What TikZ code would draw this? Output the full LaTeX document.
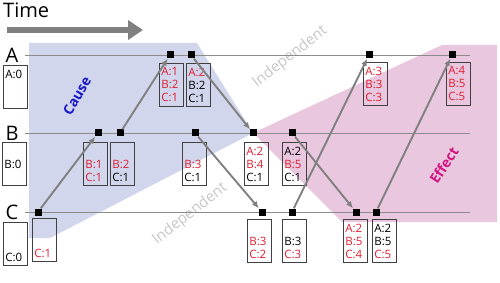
\documentclass[tikz,border=0pt]{standalone}
\usepackage{fontspec}
\setmainfont{Open Sans}
\usetikzlibrary{arrows.meta}
\definecolor{causebg}{RGB}{210,214,236}
\definecolor{effectbg}{RGB}{233,199,223}
\definecolor{clockred}{RGB}{222,30,48}
\definecolor{causeblue}{RGB}{25,25,200}
\definecolor{effectpink}{RGB}{210,20,130}
\newcommand{\rd}[1]{\textcolor{clockred}{#1}}
\newcommand{\nix}{\phantom{A:0}}
\tikzset{
  event/.style={fill=black,minimum size=7pt,inner sep=0pt},
  clock/.style={draw=black!75,line width=0.6pt,anchor=north west,align=left,
    text width=20pt,inner xsep=2pt,inner ysep=4.4pt,font=\fontsize{11.5}{13}\selectfont},
  msg/.style={-{Latex[length=7pt,width=6pt]},draw=black!50,line width=1.9pt},
  timeline/.style={draw=black!45,line width=0.7pt},
  region/.style={font=\bfseries\fontsize{14}{16}\selectfont},
  indep/.style={text=black!22,rotate=38,font=\fontsize{15}{17}\selectfont},
  proc/.style={font=\fontsize{20}{24}\selectfont,inner sep=0pt}
}
\begin{document}
\begin{tikzpicture}[x=1pt,y=-1pt,>=latex]
\useasboundingbox (0,0) rectangle (500,283);
\coordinate (apex) at (253,133);
  %%%%%%%%%%%%%%%% cause and effect areas
  \fill[causebg] (29,43) -- (197,43) -- (apex) -- (50,238) -- (29,238) -- cycle;
  \fill[effectbg] (apex) -- (442,45) -- (497,45) -- (497,222) -- (342,222) -- cycle;
  \node[region,text=causeblue,rotate=60] (cause) at (77,96) {Cause};
  \node[region,text=effectpink,rotate=57] (effect) at (444,165) {Effect};
  \node[indep] (indepup) at (290,57) {Independent};
  \node[indep] (indeplow) at (190,214) {Independent};
  %%%%%%%%%%%%%%%% time arrow
  \node[anchor=base west,font=\fontsize{20}{24}\selectfont,inner sep=0pt] (time) at (3,18) {Time};
  \coordinate (t0) at (7,30);
  \coordinate (t1) at (143,30);
  \draw[black!50,line width=5.5pt,-{Triangle[length=15pt,width=19pt]}] (t0) -- (t1);
  %%%%%%%%%%%%%%%% process lines
  \foreach \p/\y in {A/55,B/133,C/212}{
    \node[proc] (lab\p) at (12,\y) {\p};
    \coordinate (\p s) at (25,\y);
    \coordinate (\p e) at (470,\y);
    \draw[timeline] (\p s) -- (\p e);
  }
  %%%%%%%%%%%%%%%% events
  \foreach \n/\x/\y in {a1/170/55,a2/191/55,a3/369/55,a4/452/55,
    b1/98/133,b2/120/133,b3/195/133,b4/253/133,b5/292/133,
    c1/38/212,c2/262/212,c3/292/212,c4/356/212,c5/376/212}
    \node[event] (\n) at (\x,\y) {};
  %%%%%%%%%%%%%%%% vector clocks
  \node[clock] (k0a) at (3,65) {A:0\\\nix\\\nix};
  \node[clock] (k0b) at (2,142) {\nix\\B:0\\\nix};
  \node[clock] (k0c) at (3,222) {\nix\\\nix\\C:0};
  \node[clock] (ka1) at (159,63) {\rd{A:1}\\\rd{B:2}\\\rd{C:1}};
  \node[clock] (ka2) at (186,63) {\rd{A:2}\\B:2\\C:1};
  \node[clock] (ka3) at (363,62) {\rd{A:3}\\\rd{B:3}\\\rd{C:3}};
  \node[clock] (ka4) at (446,62) {\rd{A:4}\\\rd{B:5}\\\rd{C:5}};
  \node[clock] (kb1) at (83,142) {\nix\\\rd{B:1}\\\rd{C:1}};
  \node[clock] (kb2) at (110,142) {\nix\\\rd{B:2}\\C:1};
  \node[clock] (kb3) at (182,142) {\nix\\\rd{B:3}\\C:1};
  \node[clock] (kb4) at (244,142) {\rd{A:2}\\\rd{B:4}\\C:1};
  \node[clock] (kb5) at (282,142) {A:2\\\rd{B:5}\\C:1};
  \node[clock] (kc1) at (32,218) {\nix\\\nix\\\rd{C:1}};
  \node[clock] (kc2) at (247,219) {\nix\\\rd{B:3}\\\rd{C:2}};
  \node[clock] (kc3) at (282,219) {\nix\\B:3\\\rd{C:3}};
  \node[clock] (kc4) at (343,219) {\rd{A:2}\\\rd{B:5}\\\rd{C:4}};
  \node[clock] (kc5) at (372,219) {A:2\\B:5\\\rd{C:5}};
  %%%%%%%%%%%%%%%% messages
  \foreach \s/\t in {c1/b1,b2/a1,a2/b4,b3/c2,c3/a3,b5/c4,c5/a4}
    \draw[msg] (\s) -- (\t);
\end{tikzpicture}
\end{document}
